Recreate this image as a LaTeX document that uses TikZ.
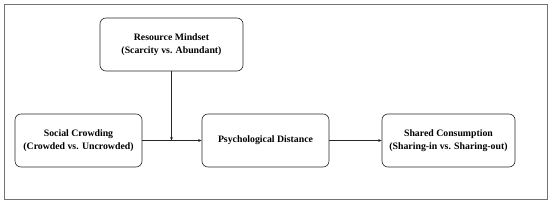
\documentclass[tikz,border=0pt]{standalone}
\usepackage{fontspec}
\setmainfont{Liberation Serif}
\usetikzlibrary{arrows.meta}
\tikzset{
  varbox/.style={draw=black!85,line width=0.6pt,rounded corners=6pt,
    minimum height=53pt,align=center,inner sep=2pt,
    font=\fontsize{9.8}{13}\selectfont\bfseries},
  link/.style={draw=black!85,line width=0.5pt,-{Stealth[length=3.5pt,width=2.8pt]}}
}
\begin{document}
\begin{tikzpicture}[x=1pt,y=1pt]
  \useasboundingbox (0,0) rectangle (550,204);
  \draw[black!55,line width=1pt] (4,5) rectangle (547,199);
  \node[varbox,minimum width=143pt] (mindset) at (171.5,159.5) {Resource Mindset\\(Scarcity vs. Abundant)};
  \node[varbox,minimum width=127pt] (crowd) at (78.5,63.5) {Social Crowding\\(Crowded vs. Uncrowded)};
  \node[varbox,minimum width=127pt] (dist) at (265.5,63.5) {Psychological Distance};
  \node[varbox,minimum width=133pt] (share) at (448.5,63.5) {Shared Consumption\\(Sharing-in vs. Sharing-out)};
  \coordinate (join) at (mindset.south |- crowd.east);
  \draw[link] (crowd.east) -- (dist.west);
  \draw[link] (mindset.south) -- (join);
  \draw[link] (dist.east) -- (share.west);
\end{tikzpicture}
\end{document}
